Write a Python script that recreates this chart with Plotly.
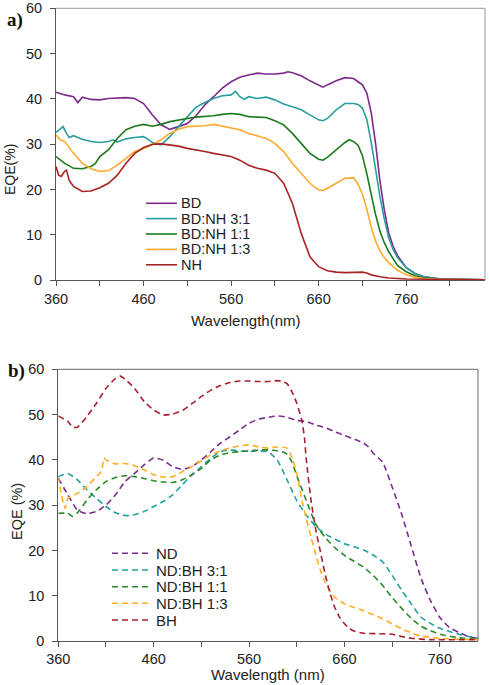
import plotly.graph_objects as go

W, H = 489, 685

# ---------------- Panel a data ----------------
a_names = ["BD", "BD:NH 3:1", "BD:NH 1:1", "BD:NH 1:3", "NH"]
a_colors = ["#7E2A8C", "#2A9E9E", "#1C7A1C", "#FFA92E", "#A82424"]

bd_x = [360,370,380,385,390,400,410,420,440,450,460,470,480,490,500,510,520,530,540,550,560,570,580,590,600,610,620,625,630,640,650,660,665,670,680,690,700,705,710,715,720,725,730,735,740,745,750,760,770,780,800,850]
bd_y = [41.5,40.9,40.5,39.2,40.4,39.9,39.8,40.1,40.3,40.1,39.0,36.5,34.3,33.3,33.9,34.6,36.3,38.7,40.5,42.4,43.8,44.8,45.3,45.7,45.5,45.5,45.7,46.0,45.8,45.1,44.0,43.1,42.6,43.1,44.0,44.7,44.5,43.8,43.1,41.3,37.0,30.2,22.0,15.5,10.5,7.5,5.5,2.8,1.5,0.8,0.3,0.1]

b31_x = [360,365,368,372,375,380,390,400,410,420,425,430,440,450,460,465,470,480,490,500,510,520,530,540,550,560,565,570,575,580,590,600,610,620,630,640,650,660,665,670,680,690,700,705,710,715,720,725,730,735,740,745,750,760,770,780,800,850]
b31_y = [32.6,33.5,33.9,32.4,31.5,31.9,31.1,30.6,30.4,30.6,31.0,30.5,31.2,31.5,31.7,31.1,30.4,29.9,31.7,33.9,36.1,38.2,39.2,40.1,40.7,40.9,41.7,40.5,39.9,40.5,40.1,40.4,39.8,38.9,38.3,37.6,36.5,35.4,35.2,35.7,37.6,39.0,39.0,38.8,38.0,35.5,30.5,24.3,18.5,13.5,9.4,6.8,5.0,2.8,1.5,0.8,0.3,0.1]

b11_x = [360,370,380,390,400,405,410,420,430,440,450,460,470,480,490,500,510,520,530,540,550,560,570,580,590,600,610,620,630,640,650,660,665,670,680,690,695,700,705,710,715,720,725,730,735,740,750,760,770,780,800,850]
b11_y = [27.3,25.8,24.7,24.6,25.1,25.8,27.3,28.8,31.3,33.2,34.0,34.4,34.0,34.4,35.0,35.4,35.7,36.0,36.1,36.3,36.6,36.8,36.6,36.1,36.0,35.9,35.2,34.3,32.4,30.2,28.0,26.7,26.5,27.1,28.8,30.4,31.0,30.6,29.8,27.5,23.5,18.8,14.5,10.8,8.3,6.3,3.3,1.9,1.0,0.5,0.2,0.1]

b13_x = [360,365,370,380,390,400,410,420,430,440,450,460,470,480,490,500,510,520,530,540,550,560,570,580,590,600,610,620,630,640,650,660,665,670,680,690,700,705,710,715,720,725,730,735,740,750,760,770,780,800,850]
b13_y = [32.1,31.0,30.6,28.0,25.8,24.6,24.0,24.2,25.4,26.9,28.4,29.1,29.9,31.0,32.4,33.3,33.9,34.0,34.1,34.4,34.0,33.7,33.2,32.4,31.8,31.3,30.2,28.4,25.8,23.6,21.4,19.9,19.8,20.3,21.4,22.5,22.6,21.2,19.0,15.7,11.7,8.7,6.5,5.0,3.9,2.2,1.2,0.7,0.4,0.2,0.1]

nh_x = [360,363,366,370,372,375,380,390,400,410,420,430,440,450,460,470,480,490,500,510,520,530,540,550,560,570,580,590,600,610,620,630,640,650,660,670,680,690,700,710,715,720,730,740,760,800,850]
nh_y = [25.1,23.2,22.9,24.1,24.3,22.1,20.7,19.6,19.7,20.4,21.4,23.2,25.8,28.0,29.3,30.0,30.1,29.9,29.6,29.1,28.8,28.4,28.0,27.6,27.3,26.5,25.4,24.7,24.3,23.6,21.4,17.0,10.4,5.2,3.0,2.1,1.8,1.7,1.8,1.8,1.6,1.2,0.8,0.5,0.3,0.2,0.1]

a_x = [bd_x, b31_x, b11_x, b13_x, nh_x]
a_y = [bd_y, b31_y, b11_y, b13_y, nh_y]

# ---------------- Panel b data ----------------
b_names = ["ND", "ND:BH 3:1", "ND:BH 1:1", "ND:BH 1:3", "BH"]
b_colors = ["#7B2D8E", "#20A0A0", "#2A8A2A", "#FFAE22", "#A8202E"]

nd_x = [360,370,380,390,400,410,420,430,440,450,460,470,480,490,500,510,520,530,540,550,560,570,580,590,600,610,620,630,640,650,660,670,680,685,690,700,710,720,730,740,750,760,770,780,790,800]
nd_y = [35.9,32.3,28.9,28.1,28.6,30.0,32.3,35.2,37.0,38.9,40.4,39.9,38.5,37.9,38.5,40.0,41.8,43.7,45.1,46.6,48.1,49.0,49.4,49.7,49.4,48.7,48.5,47.7,47.1,46.2,45.4,44.6,43.7,42.9,41.5,39.5,34.0,28.0,21.0,14.0,9.0,5.2,3.0,1.9,1.0,0.6]

n31_x = [360,365,370,380,390,400,410,420,430,440,450,460,470,480,490,500,510,520,530,540,550,560,570,580,590,600,610,620,630,640,650,660,670,680,690,700,710,720,730,740,750,760,770,780,790,800]
n31_y = [36.3,36.7,37.0,35.6,33.4,31.5,29.7,28.3,27.7,27.9,28.6,29.7,30.8,32.3,34.5,36.7,38.5,40.4,41.8,42.2,42.0,41.8,42.0,41.8,39.8,35.5,31.0,27.8,25.3,23.6,22.5,21.5,20.8,20.1,19.0,17.5,14.5,11.2,8.2,5.3,3.9,2.8,2.1,1.5,1.0,0.6]

n11_x = [360,370,375,380,390,400,410,420,430,440,450,460,470,480,490,500,510,520,530,540,550,560,570,580,590,595,600,605,610,620,630,640,650,660,670,680,690,700,710,720,730,740,750,760,780,800]
n11_y = [28.2,28.2,27.5,28.3,31.1,33.4,35.2,36.1,36.5,36.3,35.9,35.4,35.1,35.0,35.6,36.7,38.1,40.0,41.1,41.6,41.8,42.0,42.2,42.2,42.0,41.8,41.2,39.5,36.5,31.0,25.8,22.8,20.6,18.9,17.6,16.3,14.5,12.3,9.6,7.2,5.0,3.3,2.3,1.5,0.7,0.4]

n13_x = [360,363,367,370,380,390,400,405,408,410,420,430,440,450,460,470,480,490,500,510,520,530,540,550,560,570,580,590,595,600,605,610,615,620,625,630,635,640,645,650,660,670,680,690,700,710,720,730,740,760,780,800]
n13_y = [36.3,32.6,29.3,31.5,32.6,34.1,36.3,37.4,40.4,40.0,39.1,39.2,38.7,37.8,36.7,36.2,36.3,37.4,38.5,39.8,41.1,42.0,42.6,43.1,43.3,42.9,42.6,42.9,42.8,42.6,40.5,37.0,31.5,27.0,23.0,19.0,15.5,12.8,11.0,9.6,8.2,7.4,6.7,5.8,4.9,3.8,2.7,1.8,1.1,0.6,0.4,0.3]

bh_x = [360,370,375,380,390,400,410,420,425,430,440,450,460,470,480,490,500,510,520,530,540,550,560,570,580,590,595,600,605,610,615,618,620,625,630,635,640,645,650,655,660,665,670,680,700,710,720,730,750,800]
bh_y = [49.7,48.5,47.2,47.2,49.6,52.5,55.8,58.0,58.5,57.8,55.8,52.9,51.0,49.9,50.1,50.9,52.4,54.0,55.4,56.4,57.1,57.4,57.4,57.3,57.3,57.5,57.3,56.8,55.0,52.5,49.0,45.0,40.0,31.0,24.5,19.5,14.5,10.5,7.3,5.2,3.8,2.8,2.2,1.7,1.6,1.5,1.0,0.6,0.3,0.3]

b_x = [nd_x, n31_x, n11_x, n13_x, bh_x]
b_y = [nd_y, n31_y, n11_y, n13_y, bh_y]

y_ticks = [0, 10, 20, 30, 40, 50, 60]

# ---------------- layout helpers ----------------
def px(x):
    return x / W

def py(y):
    return 1 - y / H

FONT = "Liberation Sans, Arial, sans-serif"
TICKF = dict(family=FONT, size=14.5, color="#222")

fig = go.Figure()

for name, col, xs, ys in zip(a_names, a_colors, a_x, a_y):
    fig.add_trace(go.Scatter(x=xs, y=ys, name=name, mode="lines",
                             line=dict(color=col, width=1.6),
                             xaxis="x", yaxis="y", showlegend=False))

for name, col, xs, ys in zip(b_names, b_colors, b_x, b_y):
    fig.add_trace(go.Scatter(x=xs, y=ys, name=name, mode="lines",
                             line=dict(color=col, width=1.6, dash="6px,4px",
                                       shape="spline", smoothing=0.5),
                             xaxis="x2", yaxis="y2", showlegend=False))

# panel geometry (pixels)
A = dict(l=56, r=485, t=8.3, b=280.3)
B = dict(l=58.3, r=478, t=369.3, b=641)

def xaxis(dom, rng):
    return dict(domain=[px(dom["l"]), px(dom["r"])], range=rng,
                tickmode="linear", tick0=360, dtick=100,
                ticks="outside", ticklen=5, tickcolor="#555",
                minor=dict(tickmode="linear", tick0=360, dtick=50, ticks="outside",
                           ticklen=5, tickcolor="#555"),
                showline=True, linecolor="#555", linewidth=1,
                showgrid=False, zeroline=False, tickfont=TICKF,
                automargin=False)

def yaxis(dom):
    return dict(domain=[py(dom["b"]), py(dom["t"])], range=[0, 60],
                tickmode="array", tickvals=y_ticks,
                ticks="outside", ticklen=5, tickcolor="#555",
                ticklabelstandoff=5,
                showline=True, linecolor="#555", linewidth=1,
                showgrid=False, zeroline=False, tickfont=TICKF,
                automargin=False)

xa = xaxis(A, [360, 850]); xa["anchor"] = "y"
ya = yaxis(A); ya["anchor"] = "x"
xb = xaxis(B, [360, 800]); xb["anchor"] = "y2"
yb = yaxis(B); yb["anchor"] = "x2"

shapes = []
# box frames (top / right)
shapes.append(dict(type="line", xref="paper", yref="paper",
                   x0=px(A["l"]), x1=px(A["r"]), y0=py(A["t"]), y1=py(A["t"]),
                   line=dict(color="#999", width=1)))
shapes.append(dict(type="line", xref="paper", yref="paper",
                   x0=px(A["r"]), x1=px(A["r"]), y0=py(A["t"]), y1=py(A["b"]),
                   line=dict(color="#999", width=1)))
shapes.append(dict(type="line", xref="paper", yref="paper",
                   x0=px(B["l"]), x1=px(B["r"]), y0=py(B["t"]), y1=py(B["t"]),
                   line=dict(color="#666", width=1)))
shapes.append(dict(type="line", xref="paper", yref="paper",
                   x0=px(B["r"]), x1=px(B["r"]), y0=py(B["t"]), y1=py(B["b"]),
                   line=dict(color="#666", width=1)))

annotations = []

# legends
a_rows = [203.3, 218.6, 234.0, 249.4, 264.8]
for name, col, yy in zip(a_names, a_colors, a_rows):
    shapes.append(dict(type="line", xref="paper", yref="paper",
                       x0=px(146), x1=px(177), y0=py(yy), y1=py(yy),
                       line=dict(color=col, width=1.6)))
    annotations.append(dict(text=name, x=px(179), y=py(yy), xref="paper", yref="paper",
                            xanchor="left", yanchor="middle", showarrow=False,
                            font=dict(family=FONT, size=14.5, color="#222")))

b_rows = [553.3, 570.0, 586.7, 603.3, 620.0]
for name, col, yy in zip(b_names, b_colors, b_rows):
    shapes.append(dict(type="line", xref="paper", yref="paper",
                       x0=px(112), x1=px(148), y0=py(yy), y1=py(yy),
                       line=dict(color=col, width=1.6, dash="6px,4px")))
    annotations.append(dict(text=name, x=px(154), y=py(yy), xref="paper", yref="paper",
                            xanchor="left", yanchor="middle", showarrow=False,
                            font=dict(family=FONT, size=15, color="#222")))

# axis titles
def ann(text, x, y, size=14.5, angle=0, **kw):
    d = dict(text=text, x=px(x), y=py(y), xref="paper", yref="paper",
             xanchor="center", yanchor="middle", showarrow=False, textangle=angle,
             font=dict(family=FONT, size=size, color="#222"))
    d.update(kw)
    return d

annotations.append(ann("Wavelength(nm)", 245, 320, size=15))
annotations.append(ann("EQE(%)", 10, 170, size=14, angle=-90))
annotations.append(dict(text="Wavelength (nm)", x=px(268), y=0, xref="paper", yref="paper",
                        xanchor="center", yanchor="bottom", showarrow=False,
                        font=dict(family=FONT, size=15, color="#222")))
annotations.append(ann("EQE (%)", 17, 512, size=14.5, angle=-90))

# panel labels
annotations.append(dict(text="<b>a)</b>", x=px(15), y=py(20), xref="paper", yref="paper",
                        xanchor="center", yanchor="middle", showarrow=False,
                        font=dict(family="Liberation Serif, Times New Roman, serif", size=19, color="#111")))
annotations.append(dict(text="<b>b)</b>", x=px(16), y=py(371), xref="paper", yref="paper",
                        xanchor="center", yanchor="middle", showarrow=False,
                        font=dict(family="Liberation Serif, Times New Roman, serif", size=19, color="#111")))

fig.update_layout(width=W, height=H, margin=dict(l=0, r=0, t=0, b=0),
                  paper_bgcolor="white", plot_bgcolor="white",
                  xaxis=xa, yaxis=ya, xaxis2=xb, yaxis2=yb,
                  shapes=shapes, annotations=annotations, showlegend=False)

fig.write_html("out.html")
